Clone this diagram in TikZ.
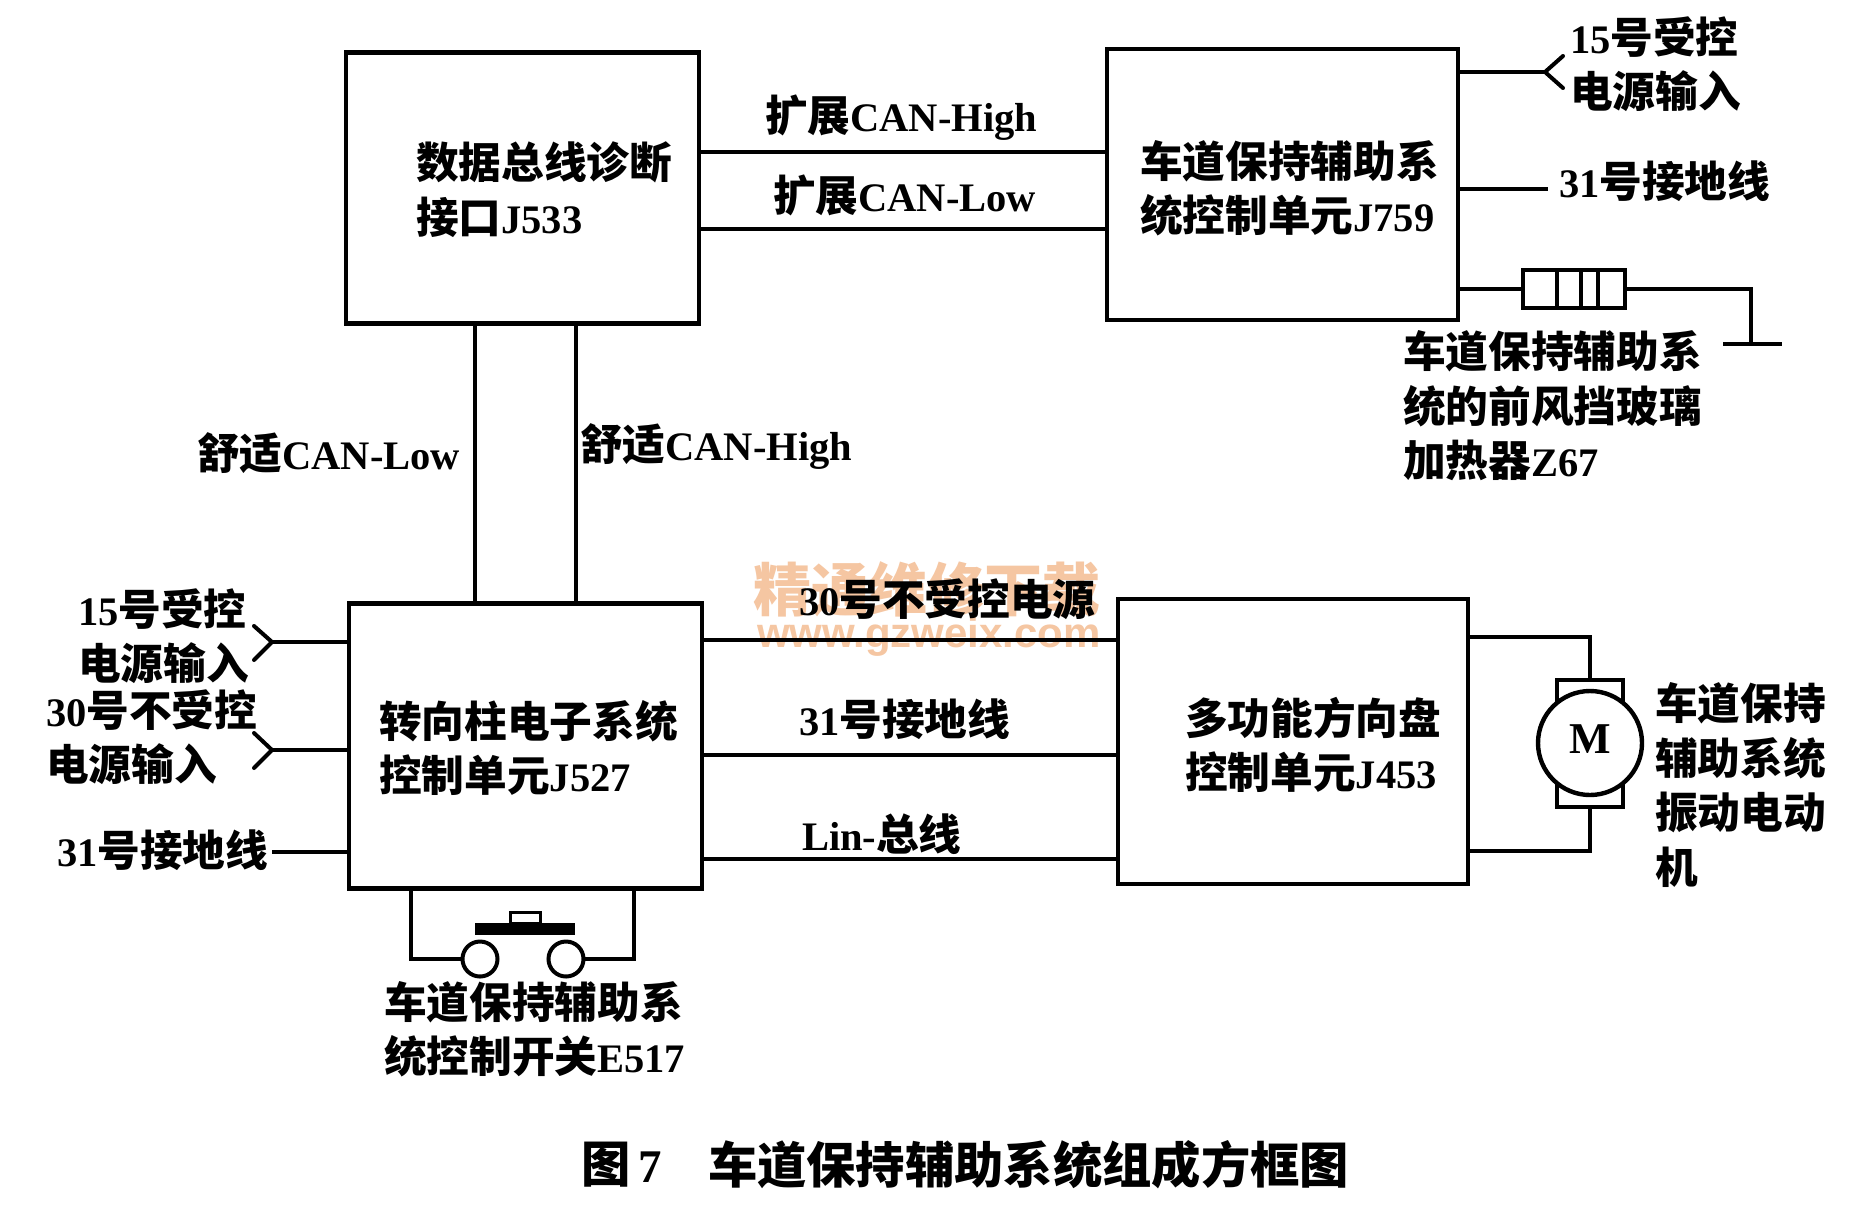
\documentclass[tikz,border=0pt]{standalone}
\usepackage{fontspec}
\setmainfont{Liberation Serif}[Scale=1]
\newfontfamily\cjkf{Noto Sans CJK SC}[Scale=1.054]
\newfontfamily\wmf{Liberation Sans}
\newcommand{\zh}[1]{{\cjkf #1}}
\usetikzlibrary{calc}
\definecolor{wmark}{HTML}{F5C6A2}
\tikzset{
  box/.style={draw=black,line width=4.6pt,inner sep=0pt,outer sep=0pt,rectangle,fill=white},
  wire/.style={draw=black,line width=4pt,line cap=butt,line join=miter},
  lab/.style={anchor=west,align=left,inner sep=0pt,outer sep=0pt,font=\fontsize{40.5}{54.5}\selectfont\bfseries,text=black},
  capt/.style={anchor=west,inner sep=0pt,outer sep=0pt,font=\fontsize{46.8}{54}\selectfont\bfseries,text=black},
  wm/.style={inner sep=0pt,outer sep=0pt,text=wmark},
  dot/.style={circle,draw=black,line width=4pt,fill=white,inner sep=0pt,outer sep=0pt}
}
\begin{document}
\begin{tikzpicture}[x=1pt,y=-1pt]
\useasboundingbox[fill=white] (0,0) rectangle (1857,1213);
% watermark
\node[wm,font=\fontsize{55}{60}\selectfont\bfseries\cjkf] (wm1) at (927,590) {精通维修下载};
\node[wm,font=\fontsize{42}{44}\selectfont\bfseries\wmf] (wm2) at (929,637) {www.gzweix.com};
% boxes
\node[box,minimum width=353pt,minimum height=271pt] (J533) at (522.5,188) {};
\node[box,minimum width=351pt,minimum height=271pt] (J759) at (1282.5,184.5) {};
\node[box,minimum width=353pt,minimum height=285pt] (J527) at (525.5,746) {};
\node[box,minimum width=350pt,minimum height=285pt] (J453) at (1293,741.5) {};
% bus lines
\draw[wire] (J533.east |- 0,152) -- (J759.west |- 0,152);
\draw[wire] (J533.east |- 0,229) -- (J759.west |- 0,229);
\draw[wire] (J533.south -| 475,0) -- (J527.north -| 475,0);
\draw[wire] (J533.south -| 576,0) -- (J527.north -| 576,0);
\draw[wire] (J527.east |- 0,640) -- (J453.west |- 0,640);
\draw[wire] (J527.east |- 0,755) -- (J453.west |- 0,755);
\draw[wire] (J527.east |- 0,859) -- (J453.west |- 0,859);
% J759 right side
\coordinate (f1) at (1545,72);
\draw[wire] (J759.east |- f1) -- (f1);
\draw[wire,line cap=round] (1563,56) -- (f1) -- (1563,88);
\coordinate (g1) at (1548,189);
\draw[wire] (J759.east |- g1) -- (g1);
\node[box,line width=4pt,minimum width=102pt,minimum height=38pt] (heater) at (1574,289) {};
\draw[wire] (heater.north -| 1557,0) -- (heater.south -| 1557,0);
\draw[wire] (heater.north -| 1581,0) -- (heater.south -| 1581,0);
\draw[wire] (heater.north -| 1598,0) -- (heater.south -| 1598,0);
\draw[wire] (J759.east |- heater.west) -- (heater.west);
\coordinate (gnd) at (1751,344);
\draw[wire] (heater.east) -- (gnd |- heater.east) -- (gnd);
\coordinate (gndL) at (1723,344);
\coordinate (gndR) at (1782,344);
\draw[wire] (gndL) -- (gndR);
% J527 left side
\coordinate (f2) at (272,642);
\draw[wire] (J527.west |- f2) -- (f2);
\draw[wire,line cap=round] (254,626) -- (f2) -- (254,660);
\coordinate (f3) at (272,750);
\draw[wire] (J527.west |- f3) -- (f3);
\draw[wire,line cap=round] (254,733) -- (f3) -- (254,768);
\coordinate (g2) at (272,852);
\draw[wire] (J527.west |- g2) -- (g2);
% switch
\node[dot,minimum size=35pt] (c1) at (480,959) {};
\node[dot,minimum size=35pt] (c2) at (566,959) {};
\draw[wire] (J527.south -| 411,0) -- (411,959) -- (c1.west);
\draw[wire] (J527.south -| 634,0) -- (634,959) -- (c2.east);
\node[fill=black,draw=none,minimum width=100pt,minimum height=12pt,inner sep=0pt,outer sep=0pt] (bar) at (525,929) {};
\node[box,line width=3pt,minimum width=30pt,minimum height=11pt] (btn) at (525.5,917.5) {};
% motor
\node[box,line width=4pt,minimum width=66pt,minimum height=127pt] (brush) at (1590,743.5) {};
\node[dot,line width=4.4pt,minimum size=104pt] (M) at (1590,743) {};
\node[inner sep=0pt,outer sep=0pt,font=\fontsize{44}{44}\selectfont\bfseries] (Mt) at (1590,739) {M};
\draw[wire] (J453.east |- 0,637) -- (1590,637) -- (brush.north -| 1590,0);
\draw[wire] (J453.east |- 0,851) -- (1590,851) -- (brush.south -| 1590,0);
% labels
\node[lab] (t1) at (416,189.5) {\zh{数据总线诊断}\\\zh{接口}J533};
\node[lab] (t2) at (1140,188.5) {\zh{车道保持辅助系}\\\zh{统控制单元}J759};
\node[lab] (t3) at (379,748) {\zh{转向柱电子系统}\\\zh{控制单元}J527};
\node[lab] (t4) at (1185,745) {\zh{多功能方向盘}\\\zh{控制单元}J453};
\node[lab] (t5) at (384,1029) {\zh{车道保持辅助系}\\\zh{统控制开关}E517};
\node[lab] (t6) at (1403,406) {\zh{车道保持辅助系}\\\zh{统的前风挡玻璃}\\\zh{加热器}Z67};
\node[lab] (t7) at (1570,64) {15\zh{号受控}\\\zh{电源输入}};
\node[lab] (t8) at (1559,181) {31\zh{号接地线}};
\node[lab] (t9) at (78,636) {15\zh{号受控}\\\zh{电源输入}};
\node[lab] (t10) at (46,737) {30\zh{号不受控}\\\zh{电源输入}};
\node[lab] (t11) at (57,850) {31\zh{号接地线}};
\node[lab] (t12) at (1655,785) {\zh{车道保持}\\\zh{辅助系统}\\\zh{振动电动}\\\zh{机}};
\node[lab] (t13) at (765,118) {\zh{扩展}CAN-High};
\node[lab] (t14) at (773,195) {\zh{扩展}CAN-Low};
\node[lab] (t15) at (197,453) {\zh{舒适}CAN-Low};
\node[lab] (t16) at (580,446) {\zh{舒适}CAN-High};
\node[lab] (t17) at (799,599) {30\zh{号不受控电源}};
\node[lab] (t18) at (799,719) {31\zh{号接地线}};
\node[lab] (t19) at (802,834) {Lin-\zh{总线}};
\node[capt] (c7) at (581,1165) {\zh{图}\,7};
\node[capt] (ct) at (708,1165) {\zh{车道保持辅助系统组成方框图}};
\end{tikzpicture}
\end{document}
